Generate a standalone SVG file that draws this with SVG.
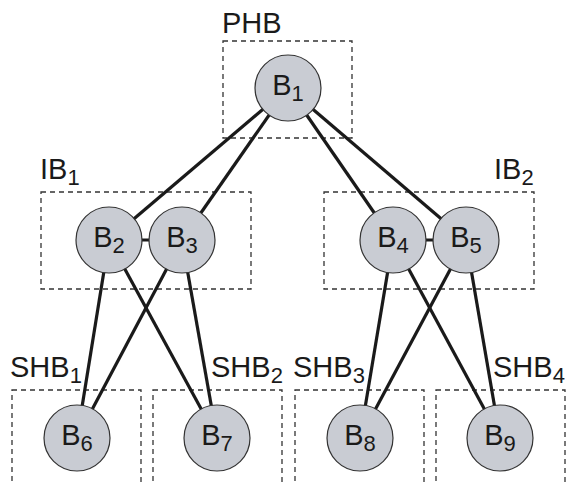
<svg xmlns="http://www.w3.org/2000/svg" width="567" height="483" viewBox="0 0 567 483">
  <style>
    .grp { fill: none; stroke: #333; stroke-width: 1.3; stroke-dasharray: 5 4; }
    .link { stroke: #1a1a1a; stroke-width: 3.2; stroke-linecap: butt; }
    .node { fill: #c9ccd3; stroke: #333; stroke-width: 1.2; }
    .lbl { font-family: "Liberation Sans", Arial, sans-serif; font-size: 29px; fill: #1a1a1a; }
    .sub { font-size: 22px; }
  </style>

  <!-- group frames -->
  <g id="groups">
    <rect class="grp" x="223" y="41" width="129" height="97"/>
    <rect class="grp" x="41" y="192" width="210" height="97"/>
    <rect class="grp" x="324" y="192" width="210" height="97"/>
    <rect class="grp" x="12" y="390" width="129" height="110"/>
    <rect class="grp" x="153" y="390" width="129" height="110"/>
    <rect class="grp" x="295" y="390" width="129" height="110"/>
    <rect class="grp" x="436" y="390" width="129" height="110"/>
  </g>

  <!-- group names -->
  <g id="group-labels" class="lbl">
    <text x="222" y="33">PHB</text>
    <text x="40" y="179">IB<tspan class="sub" dy="6">1</tspan></text>
    <text x="494" y="179">IB<tspan class="sub" dy="6">2</tspan></text>
    <text x="10" y="377">SHB<tspan class="sub" dy="6">1</tspan></text>
    <text x="211" y="377">SHB<tspan class="sub" dy="6">2</tspan></text>
    <text x="293" y="377">SHB<tspan class="sub" dy="6">3</tspan></text>
    <text x="493" y="377">SHB<tspan class="sub" dy="6">4</tspan></text>
  </g>

  <!-- connectors -->
  <g id="connectors" class="link">
    <line x1="288" y1="88" x2="109" y2="240"/>
    <line x1="288" y1="88" x2="182" y2="240"/>
    <line x1="288" y1="88" x2="393" y2="240"/>
    <line x1="288" y1="88" x2="466" y2="240"/>
    <line x1="109" y1="240" x2="182" y2="240"/>
    <line x1="393" y1="240" x2="466" y2="240"/>
    <line x1="109" y1="240" x2="77" y2="438"/>
    <line x1="109" y1="240" x2="217" y2="438"/>
    <line x1="182" y1="240" x2="77" y2="438"/>
    <line x1="182" y1="240" x2="217" y2="438"/>
    <line x1="393" y1="240" x2="360" y2="438"/>
    <line x1="393" y1="240" x2="500" y2="438"/>
    <line x1="466" y1="240" x2="360" y2="438"/>
    <line x1="466" y1="240" x2="500" y2="438"/>
  </g>

  <!-- nodes -->
  <g id="B1"><circle class="node" cx="288" cy="88" r="33"/><text class="lbl" x="288" y="95" text-anchor="middle">B<tspan class="sub" dy="6">1</tspan></text></g>
  <g id="B2"><circle class="node" cx="109" cy="240" r="33"/><text class="lbl" x="109" y="247" text-anchor="middle">B<tspan class="sub" dy="6">2</tspan></text></g>
  <g id="B3"><circle class="node" cx="182" cy="240" r="33"/><text class="lbl" x="182" y="247" text-anchor="middle">B<tspan class="sub" dy="6">3</tspan></text></g>
  <g id="B4"><circle class="node" cx="393" cy="240" r="33"/><text class="lbl" x="393" y="247" text-anchor="middle">B<tspan class="sub" dy="6">4</tspan></text></g>
  <g id="B5"><circle class="node" cx="466" cy="240" r="33"/><text class="lbl" x="466" y="247" text-anchor="middle">B<tspan class="sub" dy="6">5</tspan></text></g>
  <g id="B6"><circle class="node" cx="77" cy="438" r="33"/><text class="lbl" x="77" y="445" text-anchor="middle">B<tspan class="sub" dy="6">6</tspan></text></g>
  <g id="B7"><circle class="node" cx="217" cy="438" r="33"/><text class="lbl" x="217" y="445" text-anchor="middle">B<tspan class="sub" dy="6">7</tspan></text></g>
  <g id="B8"><circle class="node" cx="360" cy="438" r="33"/><text class="lbl" x="360" y="445" text-anchor="middle">B<tspan class="sub" dy="6">8</tspan></text></g>
  <g id="B9"><circle class="node" cx="500" cy="438" r="33"/><text class="lbl" x="500" y="445" text-anchor="middle">B<tspan class="sub" dy="6">9</tspan></text></g>
</svg>
